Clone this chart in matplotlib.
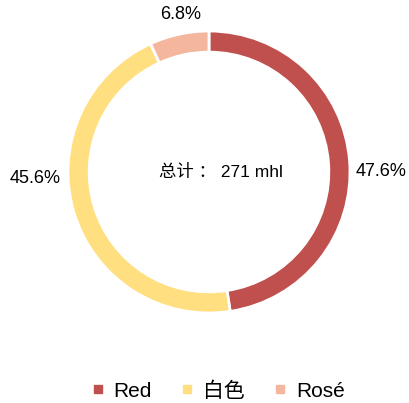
import numpy as np
import matplotlib
matplotlib.use("Agg")
from matplotlib import pyplot as plt
from matplotlib.lines import Line2D

plt.rcParams['font.family'] = ['Liberation Sans', 'Noto Sans CJK SC']

labels = ['Red', '白色', 'Rosé']
values = [47.6, 45.6, 6.8]
colors = ['#C0504D', '#FFDF80', '#F4B69C']
total_text = '总计 ： 271 mhl'

fig = plt.figure(figsize=(4.10, 4.03), dpi=100)
# donut center ~ (209, 172) px, radius ~141 px
W, H = 410, 403
cx, cy, r = 209, 172, 141
ax = fig.add_axes([(cx - r) / W, (H - cy - r) / H, 2 * r / W, 2 * r / H])

wedges, _ = ax.pie(values, colors=colors, startangle=90, counterclock=False,
                   radius=1.0, wedgeprops=dict(width=0.15, edgecolor='white', linewidth=2))
ax.set_xlim(-1, 1)
ax.set_ylim(-1, 1)
ax.set_aspect('equal')
ax.axis('off')

# percentage labels positions (excel-like)
label_pos = [(1.22, 0.0), (-1.23, -0.045), (-0.2, 1.12)]
for v, (x, y) in zip(values, label_pos):
    ax.text(x, y, f'{v:.1f}%', ha='center', va='center', fontsize=13,
            color='black', clip_on=False)

ax.text(0.085, 0.0, total_text, ha='center', va='center', fontsize=12.5)

handles = [Line2D([], [], marker='s', linestyle='none', markersize=6,
                  markerfacecolor=c, markeredgecolor=c) for c in colors]
fig.legend(handles, labels, loc='center', bbox_to_anchor=(0.532, 0.03), ncol=3,
           frameon=False, fontsize=15, handletextpad=0.45, columnspacing=1.4,
           handlelength=0.6)

fig.savefig('out.png', dpi=100)
